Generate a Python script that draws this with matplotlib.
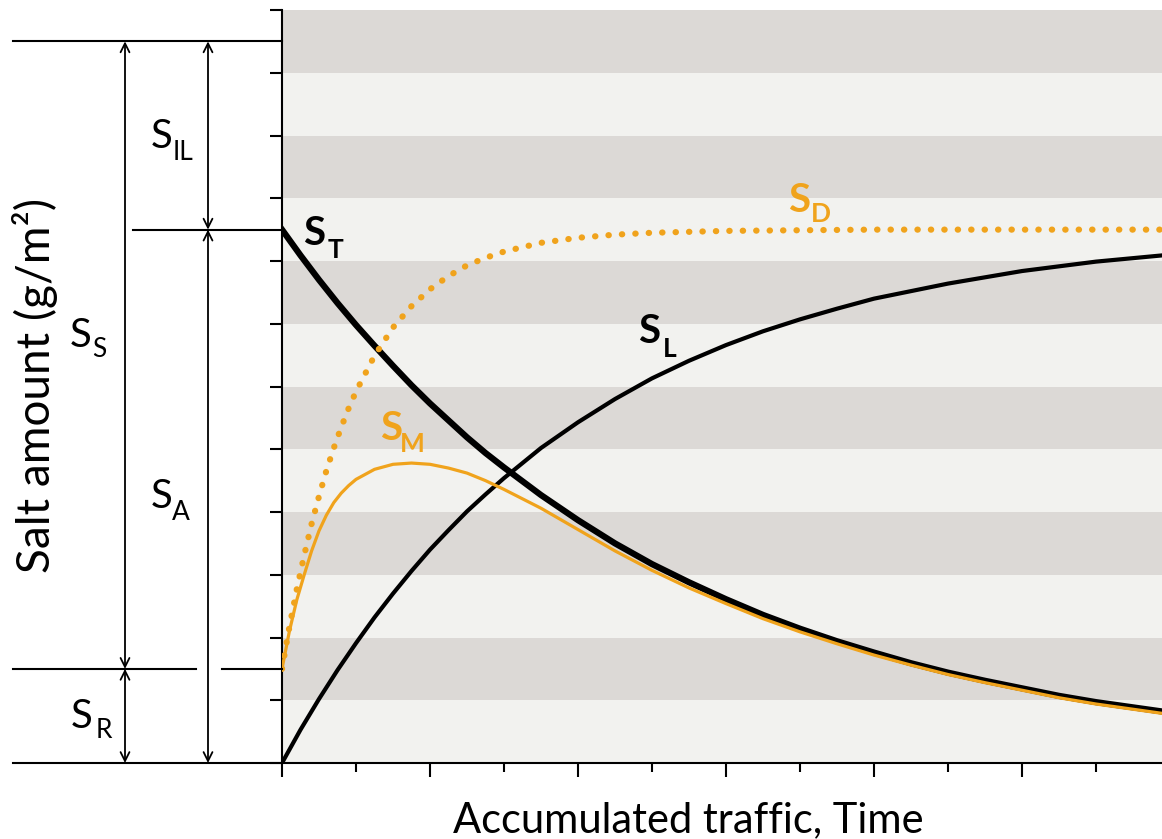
import matplotlib as mpl
mpl.use('Agg')
import matplotlib.pyplot as plt

plt.rcParams['font.family'] = ['Lato', 'DejaVu Sans']

# curves (x = traffic units, y = salt amount units)
x_t = [0, 0.25, 0.5, 0.75, 1, 1.25, 1.5, 1.75, 2, 2.25, 2.5, 2.75, 3, 3.5, 4, 4.5,
       5, 5.5, 6, 6.5, 7, 7.5, 8, 8.5, 9, 9.5, 10, 10.5, 11, 11.9]
s_t = [8.5, 8.09, 7.70, 7.33, 6.98, 6.65, 6.33, 6.02, 5.73, 5.46, 5.19, 4.94, 4.71, 4.27, 3.87, 3.50,
       3.17, 2.88, 2.61, 2.36, 2.14, 1.94, 1.76, 1.59, 1.44, 1.31, 1.19, 1.07, 0.97, 0.82]

x_l = [0, 0.25, 0.5, 0.75, 1, 1.25, 1.5, 1.75, 2, 2.25, 2.5, 2.75, 3, 3.5, 4, 4.5,
       5, 5.5, 6, 6.5, 7, 7.5, 8, 9, 10, 11, 11.9]
s_l = [0, 0.53, 1.02, 1.48, 1.91, 2.32, 2.70, 3.06, 3.40, 3.71, 4.01, 4.28, 4.54, 5.02, 5.43, 5.80,
       6.13, 6.41, 6.66, 6.88, 7.07, 7.24, 7.40, 7.64, 7.84, 7.99, 8.09]

x_d = [0, 0.1, 0.2, 0.3, 0.4, 0.5, 0.6, 0.7, 0.8, 0.9, 1, 1.25, 1.5, 1.75, 2, 2.25, 2.5, 2.75,
       3, 3.5, 4, 4.5, 5, 6, 7, 8, 9, 10, 11, 11.9]
s_d = [1.5, 2.17, 2.77, 3.31, 3.81, 4.25, 4.66, 5.02, 5.35, 5.65, 5.92, 6.49, 6.94, 7.28, 7.55, 7.76, 7.93, 8.05,
       8.15, 8.29, 8.37, 8.42, 8.45, 8.48, 8.49, 8.5, 8.5, 8.5, 8.5, 8.5]

x_m = [0, 0.1, 0.2, 0.3, 0.4, 0.5, 0.6, 0.7, 0.8, 0.9, 1, 1.25, 1.5, 1.75, 2, 2.25, 2.5, 2.75,
       3, 3.5, 4, 4.5, 5, 5.5, 6, 6.5, 7, 7.5, 8, 8.5, 9, 9.5, 10, 10.5, 11, 11.9]
s_m = [1.5, 2.1, 2.6, 3.0, 3.38, 3.7, 3.95, 4.15, 4.3, 4.42, 4.52, 4.68, 4.76, 4.78, 4.76, 4.70, 4.62, 4.50,
       4.36, 4.06, 3.72, 3.38, 3.07, 2.79, 2.54, 2.30, 2.09, 1.90, 1.72, 1.56, 1.41, 1.28, 1.16, 1.04, 0.94, 0.79]

# levels of the horizontal reference lines
level_top = 11.5
level_start = 8.5
level_residual = 1.5

orange = '#f0a31c'
gray = '#dcd9d6'
light = '#f2f2ef'

fig = plt.figure(figsize=(11.62, 8.39), dpi=100)
ax = fig.add_axes([282 / 1162, 76 / 839, 880 / 1162, 753 / 839])
ax.set_xlim(0, 880 / 74)
ax.set_ylim(0, 12)

# stripes
for k in range(12):
    ax.axhspan(k, k + 1, color=gray if k % 2 else light, lw=0, zorder=0)

for side in ['top', 'right']:
    ax.spines[side].set_visible(False)
for side in ['left', 'bottom']:
    ax.spines[side].set_linewidth(1.5)

ax.set_yticks(range(13))
ax.set_yticklabels([])
ax.set_xticks(range(0, 12, 2))
ax.set_xticks(range(1, 12, 2), minor=True)
ax.set_xticklabels([])
ax.tick_params(axis='y', direction='out', length=9, width=1.5)
ax.tick_params(axis='x', which='major', direction='out', length=10, width=1.5)
ax.tick_params(axis='x', which='minor', direction='out', length=6.5, width=1.5)

# curves
ax.plot(x_l, s_l, color='black', lw=3, zorder=3)
ax.plot(x_t, s_t, color='black', lw=4.5, zorder=4)
ax.plot(x_m, s_m, color=orange, lw=2.3, zorder=5)
ax.plot(x_d, s_d, color=orange, lw=4.5, ls=(0, (0.05, 2.1)),
        dash_capstyle='round', zorder=6)

# reference lines on the left
def px(x):
    return (x - 282) / 74

ln = dict(color='black', lw=1.5, clip_on=False, zorder=7)
ax.plot([px(13), 0], [level_top, level_top], **ln)
ax.plot([px(133), 0], [level_start, level_start], **ln)
ax.plot([px(13), px(196)], [level_residual, level_residual], **ln)
ax.plot([px(222), 0], [level_residual, level_residual], **ln)
ax.plot([px(13), 0], [0, 0], **ln)

arr = dict(arrowstyle='<->', lw=1.3, color='black', mutation_scale=16,
           shrinkA=0, shrinkB=0)
ax.annotate('', xy=(px(125), level_top), xytext=(px(125), level_residual),
            arrowprops=arr, annotation_clip=False)
ax.annotate('', xy=(px(125), level_residual), xytext=(px(125), 0),
            arrowprops=arr, annotation_clip=False)
ax.annotate('', xy=(px(208), level_top), xytext=(px(208), level_start),
            arrowprops=arr, annotation_clip=False)
ax.annotate('', xy=(px(208), level_start), xytext=(px(208), 0),
            arrowprops=arr, annotation_clip=False)

def py(y):
    return (763 - y) / 62.75

def label(x, y, sx, sy, sub, color='black', weight='normal'):
    ax.text(px(x), py(y), 'S', fontsize=29, color=color, weight=weight,
            ha='left', va='baseline', clip_on=False)
    ax.text(px(sx), py(sy), sub, fontsize=19, color=color, weight=weight,
            ha='left', va='baseline', clip_on=False)

label(151, 148, 173, 160, 'IL')
label(70, 347, 92, 357, 'S')
label(151, 508, 172, 520, 'A')
label(71, 728, 96, 738, 'R')
label(303, 245, 328, 258, 'T', weight='bold')
label(380, 440, 400, 452, 'M', color=orange, weight='bold')
label(788, 212, 811, 222, 'D', color=orange, weight='bold')
label(638, 343, 663, 357, 'L', weight='bold')

ax.text(px(688), py(832), 'Accumulated traffic, Time', fontsize=30,
        ha='center', va='baseline', clip_on=False)
ax.text(px(50), py(385), 'Salt amount (g/m²)', fontsize=33, rotation=90,
        rotation_mode='anchor', ha='center', va='baseline', clip_on=False)

fig.savefig('out.png', dpi=100)
